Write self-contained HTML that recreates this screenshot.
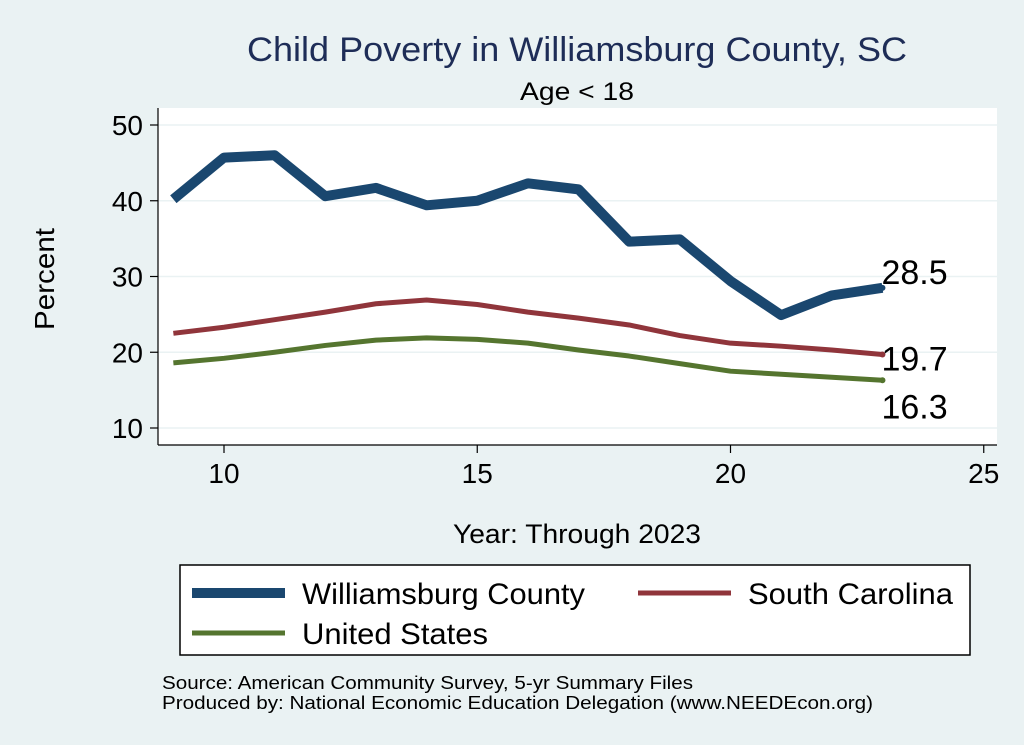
<!DOCTYPE html>
<html><head><meta charset="utf-8"><style>
body{margin:0;background:#eaf2f3;}
svg{display:block;font-family:"Liberation Sans",sans-serif;}
</style></head><body>
<svg id="c" width="1024" height="745">
<rect width="1024" height="745" fill="#eaf2f3"/>
<text x="247" y="61" textLength="660" lengthAdjust="spacingAndGlyphs" font-size="34" fill="#1e2d57">Child Poverty in Williamsburg County, SC</text>
<text x="520" y="100" textLength="114" lengthAdjust="spacingAndGlyphs" font-size="25" fill="#000">Age &lt; 18</text>
<text transform="translate(54,330) rotate(-90)" textLength="102" lengthAdjust="spacingAndGlyphs" font-size="28">Percent</text>
<text x="453" y="543" textLength="248" lengthAdjust="spacingAndGlyphs" font-size="27">Year: Through 2023</text>
<g id="plot"></g>
<rect x="180" y="565" width="790" height="90" fill="#fff" stroke="#000" stroke-width="1.5"/>
<g><line x1="192" y1="593" x2="285" y2="593" stroke="#1a476f" stroke-width="10"/><text x="302" y="604" textLength="283" lengthAdjust="spacingAndGlyphs" font-size="30">Williamsburg County</text></g>
<g><line x1="638" y1="593" x2="731" y2="593" stroke="#90353b" stroke-width="5"/><text x="748" y="604" textLength="205" lengthAdjust="spacingAndGlyphs" font-size="30">South Carolina</text></g>
<g><line x1="192" y1="633" x2="285" y2="633" stroke="#55752f" stroke-width="5"/><text x="302" y="644" textLength="186" lengthAdjust="spacingAndGlyphs" font-size="30">United States</text></g>
<text x="162" y="689" textLength="531" lengthAdjust="spacingAndGlyphs" font-size="18">Source: American Community Survey, 5-yr Summary Files</text>
<text x="162" y="709" textLength="711" lengthAdjust="spacingAndGlyphs" font-size="18">Produced by: National Economic Education Delegation (www.NEEDEcon.org)</text>
</svg>
<script>
const years=[9,10,11,12,13,14,15,16,17,18,19,20,21,22,23];
const williamsburg=[40.2,45.7,46.0,40.6,41.7,39.4,40.0,42.3,41.5,34.6,34.9,29.4,24.9,27.5,28.5];
const southCarolina=[22.5,23.3,24.3,25.3,26.4,26.9,26.3,25.3,24.5,23.6,22.2,21.2,20.8,20.3,19.7];
const unitedStates=[18.6,19.2,20.0,20.9,21.6,21.9,21.7,21.2,20.3,19.5,18.5,17.5,17.1,16.7,16.3];
const yTicks=[10,20,30,40,50];
const xTicks=[10,15,20,25];
const NS='http://www.w3.org/2000/svg';
const X=v=>224+(v-10)*50.65;
const Y=v=>428-(v-10)*7.575;
const g=document.getElementById('plot');
function mk(t,a,p){const e=document.createElementNS(NS,t);for(const k in a)e.setAttribute(k,a[k]);(p||g).appendChild(e);return e;}
let r=mk('rect',{x:158,y:108,width:839,height:337,fill:'#fff'});


yTicks.forEach(t=>{
 let l=mk('line',{x1:158,x2:997,y1:Y(t),y2:Y(t),stroke:'#eaf2f3','stroke-width':1.5});
 
 
 mk('line',{x1:150,x2:158,y1:Y(t),y2:Y(t),stroke:'#000','stroke-width':1.2});
 let tx=mk('text',{x:143,y:Y(t)+10,'text-anchor':'end','font-size':28});tx.textContent=t;
 
 
});
xTicks.forEach(t=>{
 mk('line',{x1:X(t),x2:X(t),y1:445,y2:453,stroke:'#000','stroke-width':1.2});
 let tx=mk('text',{x:X(t),y:483,'text-anchor':'middle','font-size':28});tx.textContent=t;
 
 
});
let ax=mk('line',{x1:158,x2:158,y1:108,y2:445,stroke:'#000','stroke-width':1.2});


let bx=mk('line',{x1:158,x2:997,y1:445,y2:445,stroke:'#000','stroke-width':1.2});


function series(vals,col,w,name,dy){
 const pts=vals.map((v,i)=>X(years[i])+','+Y(v)).join(' ');
 let p=mk('polyline',{points:pts,fill:'none',stroke:col,'stroke-width':w,'stroke-linejoin':'round'});
 
 
 const lv=vals[vals.length-1];
 mk('circle',{cx:X(years[years.length-1]),cy:Y(lv),r:3,fill:col});
 let t=mk('text',{x:X(years[years.length-1])+-1,y:Y(lv)+dy,'font-size':34});t.textContent=lv.toFixed(1);
 
 
}
series(williamsburg,'#1a476f',10,'line-williamsburg',-4);
series(southCarolina,'#90353b',5,'line-south-carolina',16);
series(unitedStates,'#55752f',5,'line-united-states',38);
</script>
</body></html>
